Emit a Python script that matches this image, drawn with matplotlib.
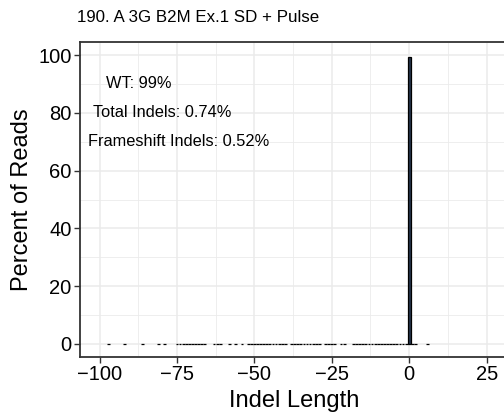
import numpy as np
import matplotlib
matplotlib.use("Agg")
import matplotlib.pyplot as plt
from matplotlib.ticker import MultipleLocator

plt.rcParams['font.family'] = ['Liberation Sans', 'DejaVu Sans']

title = "190. A 3G B2M Ex.1 SD + Pulse"

# indel lengths and percent of reads
indel_len = ([-97, -92, -86, -81, -79]
             + list(range(-75, -65))
             + [-63, -62, -61, -58, -56, -54, -52, -51]
             + list(range(-50, -39))
             + list(range(-38, -28))
             + [-27, -26, -25, -24, -22, -21]
             + list(range(-18, 0))
             + [0, 1, 2, 6])
small_pct = [0.01, 0.008, 0.012, 0.009, 0.01, 0.007, 0.011, 0.008, 0.01, 0.009]
pct = []
for i, x in enumerate(indel_len):
    if x == 0:
        pct.append(99.2)
    else:
        pct.append(small_pct[i % len(small_pct)])

notes = ["WT: 99%", "Total Indels: 0.74%", "Frameshift Indels: 0.52%"]
note_x = [-87.2, -79.8, -74.6]
note_y = [90, 80, 70]

fig = plt.figure(figsize=(5.04, 4.2), dpi=100)
ax = fig.add_axes([80 / 504, 63 / 420, 428 / 504, 315 / 420])

ax.bar(indel_len, pct, width=0.9, color='#24334a', edgecolor='black', linewidth=0.9, zorder=3)

for t, x, y in zip(notes, note_x, note_y):
    ax.text(x, y, t, ha='center', va='center', fontsize=11.8, color='black', zorder=4)

ax.set_xlim(-106.3, 31.9)
ax.set_ylim(-4.5, 104.5)
ax.set_xticks([-100, -75, -50, -25, 0, 25])
ax.set_yticks([0, 20, 40, 60, 80, 100])
ax.xaxis.set_minor_locator(MultipleLocator(12.5))
ax.yaxis.set_minor_locator(MultipleLocator(10))
ax.grid(which='major', color='#ebebeb', linewidth=1.1, zorder=0)
ax.grid(which='minor', color='#ebebeb', linewidth=0.6, zorder=0)
ax.set_axisbelow(True)
ax.tick_params(which='minor', length=0)
ax.tick_params(which='major', length=4, width=1, color='#333333',
               labelsize=14.5, labelcolor='black', pad=2)
for s in ax.spines.values():
    s.set_color('#333333')
    s.set_linewidth(1.3)

ax.set_xlabel("Indel Length", fontsize=17, labelpad=4)
ax.set_ylabel("Percent of Reads", fontsize=17, labelpad=4)
fig.text(77 / 504, 1 - 22 / 420, title, fontsize=12.2, ha='left', va='baseline')

fig.savefig("out.png", dpi=100, facecolor='white')
